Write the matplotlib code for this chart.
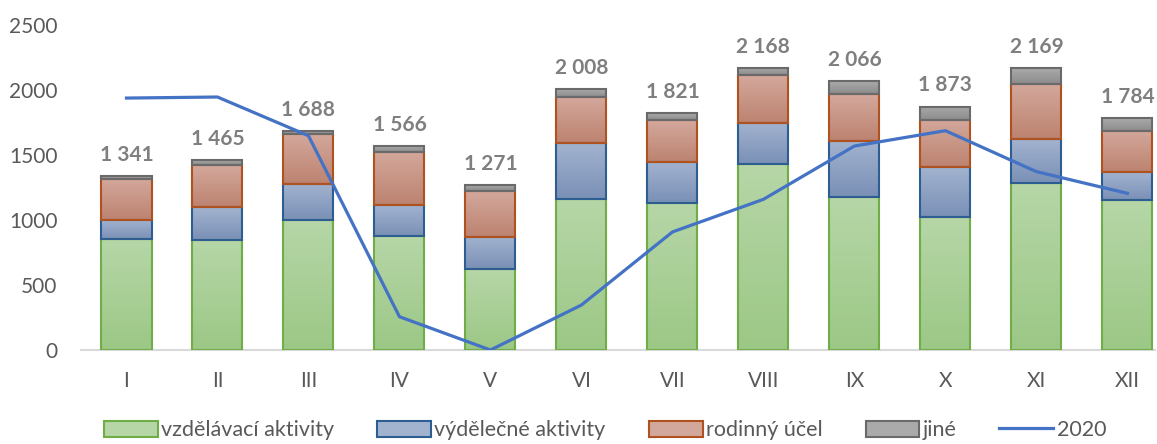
import numpy as np
import matplotlib.pyplot as plt
from matplotlib.colors import LinearSegmentedColormap
from matplotlib.patches import Patch
from matplotlib.lines import Line2D

plt.rcParams['font.family'] = ['Lato', 'DejaVu Sans']

mesice = ['I', 'II', 'III', 'IV', 'V', 'VI', 'VII', 'VIII', 'IX', 'X', 'XI', 'XII']
vzdelavaci = [855, 848, 1000, 877, 623, 1162, 1131, 1428, 1179, 1025, 1282, 1154]
vydelecne = [145, 252, 277, 236, 249, 428, 318, 316, 431, 380, 338, 215]
rodinny = [318, 323, 385, 413, 351, 359, 320, 369, 357, 364, 426, 316]
jine = [23, 42, 26, 40, 48, 59, 52, 55, 99, 104, 123, 99]
rok2020 = [1938, 1946, 1648, 256, 0, 346, 908, 1159, 1569, 1687, 1372, 1205]

serie = [
    ('vzdělávací aktivity', vzdelavaci, '#b6d6a7', '#9cc886', '#70ad47'),
    ('výdělečné aktivity', vydelecne, '#a2b3cf', '#7a90b6', '#2e5d92'),
    ('rodinný účel', rodinny, '#d3a89c', '#bd8370', '#b0521f'),
    ('jiné', jine, '#aaaaaa', '#8c8c8c', '#6a6a6a'),
]

fig = plt.figure(figsize=(11.57, 4.44), dpi=100)
ax = fig.add_axes([0.070, 0.2117, 0.928, 0.732])

x = np.arange(len(mesice))
width = 0.55
bottom = np.zeros(len(mesice))
handles = []
for name, vals, c_top, c_bot, c_edge in serie:
    bars = ax.bar(x, vals, width, bottom=bottom, facecolor='none',
                  edgecolor=c_edge, linewidth=1.5, zorder=3)
    cmap = LinearSegmentedColormap.from_list(name, [c_bot, c_top])
    grad = np.linspace(1, 0, 64).reshape(-1, 1)
    for r in bars:
        bx, by = r.get_x(), r.get_y()
        im = ax.imshow(grad, cmap=cmap, extent=[bx, bx + r.get_width(), by, by + r.get_height()],
                       aspect='auto', zorder=2, vmin=0, vmax=1)
        im.set_clip_path(r)
    bottom += np.array(vals)
    handles.append(Patch(facecolor=c_top, edgecolor=c_edge, linewidth=1.5, label=name))

ax.plot(x, rok2020, color='#4472c4', linewidth=2.3, zorder=5)
handles.append(Line2D([], [], color='#4472c4', linewidth=2.3, label='2020'))

for xi, total in zip(x, bottom):
    txt = f'{int(total):,}'.replace(',', ' ')
    ax.text(xi, total + 85, txt, ha='center', va='bottom', fontsize=15,
            fontweight='bold', color='#7f7f7f', zorder=6)

ax.set_xlim(-0.5, 11.3)
ax.set_ylim(0, 2500)
ax.set_yticks(range(0, 2501, 500))
ax.set_xticks(x)
ax.set_xticklabels(mesice)
ax.tick_params(axis='both', length=0, labelsize=15, labelcolor='#595959')
ax.tick_params(axis='y', pad=17)
ax.tick_params(axis='x', pad=15)
for s in ['top', 'right', 'left']:
    ax.spines[s].set_visible(False)
ax.spines['bottom'].set_color('#d9d9d9')
ax.spines['bottom'].set_linewidth(1.5)
ax.spines['bottom'].set_zorder(1)

fig.legend(handles=handles, loc='lower center', bbox_to_anchor=(0.523, -0.035), ncol=5,
           frameon=False, fontsize=15.5, handlelength=2.5, handleheight=0.75,
           handletextpad=0.15, columnspacing=2.0, labelcolor='#595959')

fig.savefig('out.png', dpi=100)
